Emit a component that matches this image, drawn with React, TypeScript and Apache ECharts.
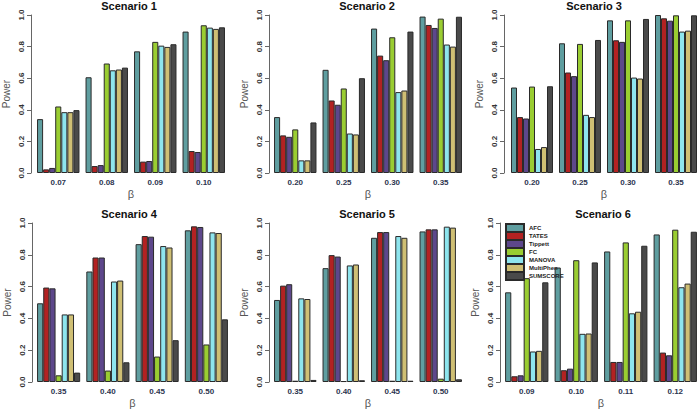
import React, { useEffect, useRef } from "react";
import * as echarts from "echarts";

const methods = ["AFC", "TATES", "Tippett", "FC", "MANOVA", "MultiPhen", "SUMSCORE"];
const methodColors = ["#5F9EA0", "#B22222", "#5D478B", "#9ACD32", "#8EE5EE", "#CFBF74", "#4A4A4A"];

const titles = ["Scenario 1", "Scenario 2", "Scenario 3", "Scenario 4", "Scenario 5", "Scenario 6"];

const betas1 = ["0.07", "0.08", "0.09", "0.10"];
const betas2 = ["0.20", "0.25", "0.30", "0.35"];
const betas3 = ["0.20", "0.25", "0.30", "0.35"];
const betas4 = ["0.35", "0.40", "0.45", "0.50"];
const betas5 = ["0.35", "0.40", "0.45", "0.50"];
const betas6 = ["0.09", "0.10", "0.11", "0.12"];

// rows follow `methods` order, columns follow the betas
const scenario1 = [
  [0.341, 0.606, 0.77, 0.895],
  [0.023, 0.044, 0.072, 0.139],
  [0.032, 0.05, 0.076, 0.133],
  [0.421, 0.693, 0.83, 0.935],
  [0.385, 0.65, 0.806, 0.92],
  [0.385, 0.655, 0.798, 0.912],
  [0.398, 0.667, 0.815, 0.922],
];
const scenario2 = [
  [0.354, 0.653, 0.914, 0.99],
  [0.238, 0.459, 0.743, 0.937],
  [0.229, 0.432, 0.714, 0.918],
  [0.276, 0.535, 0.859, 0.977],
  [0.08, 0.25, 0.512, 0.813],
  [0.08, 0.244, 0.522, 0.8],
  [0.32, 0.6, 0.895, 0.989],
];
const scenario3 = [
  [0.541, 0.821, 0.966, 1.0],
  [0.354, 0.636, 0.84, 0.979],
  [0.345, 0.613, 0.83, 0.964],
  [0.547, 0.817, 0.966, 0.998],
  [0.152, 0.368, 0.604, 0.895],
  [0.164, 0.354, 0.598, 0.901],
  [0.549, 0.842, 0.975, 0.998],
];
const scenario4 = [
  [0.495, 0.695, 0.867, 0.954],
  [0.594, 0.783, 0.918, 0.979],
  [0.589, 0.783, 0.914, 0.975],
  [0.042, 0.072, 0.16, 0.236],
  [0.425, 0.632, 0.855, 0.941],
  [0.425, 0.638, 0.846, 0.937],
  [0.059, 0.124, 0.263, 0.394],
];
const scenario5 = [
  [0.516, 0.716, 0.907, 0.947],
  [0.606, 0.798, 0.943, 0.96],
  [0.615, 0.789, 0.943, 0.96],
  [0.008, 0.006, 0.008, 0.021],
  [0.526, 0.733, 0.918, 0.977],
  [0.522, 0.739, 0.907, 0.971],
  [0.013, 0.011, 0.008, 0.017],
];
const scenario6 = [
  [0.564, 0.72, 0.821, 0.928],
  [0.036, 0.074, 0.126, 0.185],
  [0.042, 0.084, 0.126, 0.168],
  [0.653, 0.766, 0.878, 0.958],
  [0.192, 0.303, 0.432, 0.596],
  [0.196, 0.305, 0.442, 0.619],
  [0.627, 0.752, 0.857, 0.945],
];

const allBetas = [betas1, betas2, betas3, betas4, betas5, betas6];
const allValues = [scenario1, scenario2, scenario3, scenario4, scenario5, scenario6];

// panel layout: [gridLeft, gridRight(x), top, height, yAxisOffset, titleCenterX]
const panels = [
  [34, 228, 15, 158, 3, 129],
  [271, 465, 15, 158, 2, 367],
  [508, 701, 15, 158, 4, 594],
  [34, 231, 223, 159, 2, 129],
  [271, 465, 223, 159, 2, 367],
  [502, 700, 223, 159, 2, 603],
];

export default function App() {
  const ref = useRef<HTMLDivElement>(null);
  useEffect(() => {
    if (!ref.current) return;
    const chart = echarts.init(ref.current, undefined, { renderer: "svg" });
    const font = "Liberation Sans, Arial, sans-serif";
    const grids: any[] = [];
    const xAxes: any[] = [];
    const yAxes: any[] = [];
    const series: any[] = [];
    const titleOpts: any[] = [];
    panels.forEach((p, i) => {
      const [l, r, t, h, off, tc] = p;
      grids.push({ left: l, width: r - l, top: t, height: h, containLabel: false });
      titleOpts.push({
        text: titles[i],
        left: tc,
        top: t - 15,
        padding: 0,
        textAlign: "center",
        textStyle: { fontFamily: font, fontSize: 11, fontWeight: "bold", color: "#111" },
      });
      xAxes.push({
        type: "category",
        gridIndex: i,
        data: allBetas[i],
        axisLine: { show: false },
        axisTick: { show: false },
        axisLabel: { fontFamily: font, fontSize: 8, fontWeight: "bold", color: "#2d3550", margin: 5 },
        name: "β",
        nameLocation: "middle",
        nameGap: 15,
        nameTextStyle: { fontFamily: font, fontSize: 11, color: "#555" },
      });
      yAxes.push({
        type: "value",
        gridIndex: i,
        min: 0,
        max: 1,
        interval: 0.2,
        offset: off,
        splitLine: { show: false },
        axisLine: { show: true, lineStyle: { color: "#666", width: 1 } },
        axisTick: { show: true, length: 4, lineStyle: { color: "#666" } },
        axisLabel: {
          fontFamily: font,
          fontSize: 8,
          fontWeight: "bold",
          color: "#333",
          rotate: 90,
          margin: 6,
          formatter: (v: number) => v.toFixed(1),
        },
        name: "Power",
        nameLocation: "middle",
        nameGap: 20,
        nameRotate: 90,
        nameTextStyle: { fontFamily: font, fontSize: 10, color: "#555" },
      });
      methods.forEach((m, k) => {
        series.push({
          type: "bar",
          name: m,
          xAxisIndex: i,
          yAxisIndex: i,
          data: allValues[i][k],
          barGap: "0%",
          barCategoryGap: "12.5%",
          itemStyle: { color: methodColors[k], borderColor: "#2a2a2a", borderWidth: 1 },
        });
      });
    });
    chart.setOption({
      animation: false,
      color: methodColors,
      title: titleOpts,
      grid: grids,
      xAxis: xAxes,
      yAxis: yAxes,
      series,
      legend: {
        data: methods,
        orient: "vertical",
        left: 505,
        top: 223,
        itemGap: -2,
        itemWidth: 18,
        itemHeight: 8,
        icon: "rect",
        padding: 0,
        textStyle: { fontFamily: font, fontSize: 6, fontWeight: "bold", color: "#222", lineHeight: 8 },
      },
    });
    return () => chart.dispose();
  }, []);
  return <div ref={ref} style={{ width: 700, height: 410, position: "absolute", left: 0, top: 0 }} />;
}
